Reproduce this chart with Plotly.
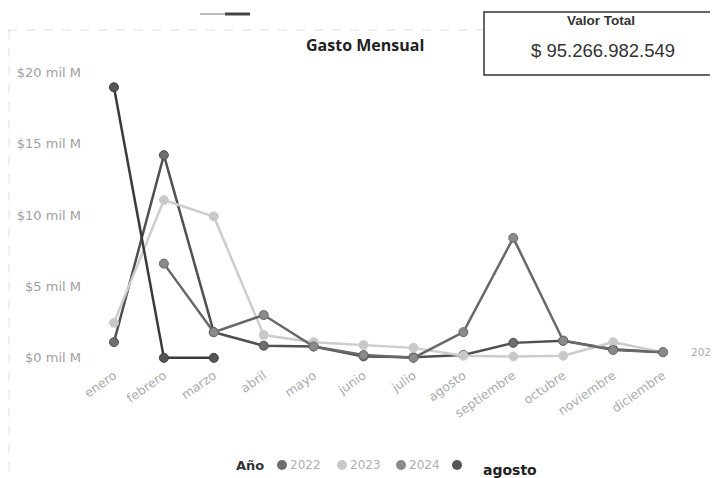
import plotly.graph_objects as go

meses = ["enero", "febrero", "marzo", "abril", "mayo", "junio", "julio",
         "agosto", "septiembre", "octubre", "noviembre", "diciembre"]

# valores en miles de millones (mil M)
v2022 = [1.1, 14.2, 1.8, 0.85, 0.8, 0.1, 0.05, 0.2, 1.05, 1.2, 0.6, 0.4]
v2023 = [2.45, 11.05, 9.9, 1.6, 1.1, 0.9, 0.7, 0.15, 0.1, 0.15, 1.1, 0.4]
v2024 = [None, 6.6, 1.8, 3.0, 0.8, 0.2, 0.0, 1.8, 8.4, 1.2, 0.55, 0.4]
v2025 = [18.95, 0.0, 0.0, None, None, None, None, None, None, None, None, None]

anios = ["2022", "2023", "2024", ""]
series = [v2022, v2023, v2024, v2025]
line_cols = ["#505050", "#cdcdcd", "#686868", "#3a3a3a"]
mark_cols = ["#6e6e6e", "#c8c8c8", "#8a8a8a", "#555555"]

ytickvals = [0, 5, 10, 15, 20]
yticktext = ["$0 mil M", "$5 mil M", "$10 mil M", "$15 mil M", "$20 mil M"]

OFF = 8  # page body margin
W, H = 710, 470
# plot area in screen pixels: x 89..688, y 58..365
L, R, T, B = 89 - OFF, W - (688 - OFF), 58 - OFF, H - (365 - OFF)
PW, PH = W - L - R, H - T - B

def xp(sx):
    return (sx - OFF - L) / PW

def yp(sy):
    return (H - B - (sy - OFF)) / PH

fig = go.Figure()
for name, vals, lc, mc in zip(anios, series, line_cols, mark_cols):
    fig.add_trace(go.Scatter(
        x=meses, y=vals, mode="lines+markers", name=name,
        line=dict(color=lc, width=2.5),
        marker=dict(color=mc, size=9, line=dict(color=lc, width=1)),
        showlegend=False, connectgaps=False))

fig.update_layout(
    width=W, height=H,
    margin=dict(l=L, r=R, t=T, b=B, autoexpand=False),
    paper_bgcolor="white", plot_bgcolor="white",
    font=dict(family="DejaVu Sans, sans-serif", color="#999999"),
    showlegend=False,
    xaxis=dict(
        type="category", range=[-0.5, 11.5], showgrid=False, zeroline=False,
        showline=False, ticks="", tickangle=-35, automargin=False,
        tickfont=dict(size=12.5, color="#aaaaaa")),
    yaxis=dict(
        range=[-0.5, 21], tickvals=ytickvals, ticktext=yticktext,
        showgrid=False, zeroline=False, showline=False, ticks="", automargin=False,
        tickfont=dict(size=13, color="#a0a0a0"), ticklabelstandoff=7),
)

shapes = [
    # faint visual borders
    dict(type="line", xref="paper", yref="paper", x0=xp(8), x1=xp(484), y0=yp(30), y1=yp(30),
         line=dict(color="#dddddd", width=1, dash="dash")),
    dict(type="line", xref="paper", yref="paper", x0=xp(9), x1=xp(9), y0=yp(30), y1=yp(478),
         line=dict(color="#dddddd", width=1, dash="dash")),
    # top slicer fragment
    dict(type="line", xref="paper", yref="paper", x0=xp(200), x1=xp(225), y0=yp(14), y1=yp(14),
         line=dict(color="#bbbbbb", width=2)),
    dict(type="line", xref="paper", yref="paper", x0=xp(225), x1=xp(250), y0=yp(14), y1=yp(14),
         line=dict(color="#444444", width=3)),
    # Valor Total card
    dict(type="rect", xref="paper", yref="paper", x0=xp(484), x1=xp(717), y0=yp(12), y1=yp(75),
         line=dict(color="#333333", width=1.5), fillcolor="rgba(0,0,0,0)"),
]

# manual legend
leg_marker_x = [282, 342, 401, 457]
leg_y = 465
ann = [
    dict(text="<b>Gasto Mensual</b>", x=xp(365), y=yp(45),
         font=dict(family="Open Sans, sans-serif", size=16, color="#222222")),
    dict(text="<b>Valor Total</b>", x=xp(601), y=yp(21),
         font=dict(family="Liberation Sans, Arial, sans-serif", size=13.5, color="#333333")),
    dict(text="$ 95.266.982.549", x=xp(603), y=yp(50),
         font=dict(family="Liberation Sans, Arial, sans-serif", size=18.5, color="#333333")),
    dict(text="2023", x=xp(689), y=yp(352), xanchor="left", font=dict(size=10.5, color="#aaaaaa")),
    dict(text="<b>agosto</b>", x=xp(510), y=yp(470), font=dict(size=14, color="#222222")),
    dict(text="<b>Año</b>", x=xp(234), y=yp(leg_y), xanchor="left", font=dict(size=13, color="#333333")),
]
for name, mc, mx in zip(anios, mark_cols, leg_marker_x):
    r = 5
    shapes.append(dict(type="circle", xref="paper", yref="paper",
                       x0=xp(mx - r), x1=xp(mx + r), y0=yp(leg_y - r), y1=yp(leg_y + r),
                       fillcolor=mc, line=dict(color=mc, width=0)))
    if name:
        ann.append(dict(text=name, x=xp(mx + 6), y=yp(leg_y), xanchor="left",
                        font=dict(size=12, color="#b0b0b0")))

fig.update_layout(shapes=shapes)
for a in ann:
    a.setdefault("xanchor", "center")
    fig.add_annotation(xref="paper", yref="paper", showarrow=False, yanchor="middle", **a)

fig.write_html("out.html")
